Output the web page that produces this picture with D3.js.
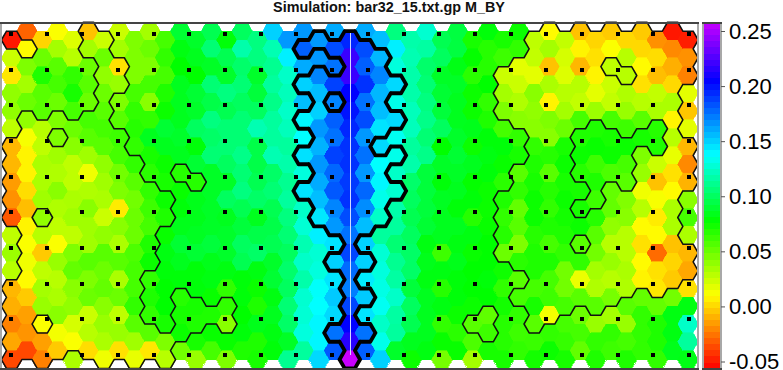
<!DOCTYPE html>
<html>
<head>
<meta charset="utf-8">
<script src="https://d3js.org/d3.v7.min.js"></script>
<style>html,body{margin:0;padding:0;background:#fff}svg{display:block}</style>
</head>
<body>
<div id="chart"></div>
<script>
// M_BY in thousandths, read per hexagon column (top to bottom)
const col00=[-50,25,5,40,40,28,-8,-8,-15,-18,-33,28,37,30,-8,-10,-22,-12,-37];
const col01=[-30,10,45,35,50,40,13,8,8,2,-6,8,12,15,10,-3,-14,-17,-37];
const col02=[0,50,70,55,55,30,28,33,33,36,40,30,-3,28,35,38,12,-14,-22];
const col03=[12,35,55,60,50,45,45,36,32,42,32,28,12,38,30,33,42,14,-3];
const col04=[20,30,65,72,60,50,42,28,28,33,36,28,45,52,42,40,22,12,33];
const col05=[-5,35,50,55,50,60,55,36,15,32,42,36,36,55,45,50,25,30,2];
const col06=[25,50,40,50,55,60,55,40,36,33,25,40,55,50,52,42,38,33,15];
const col07=[25,35,3,38,45,55,62,60,48,45,6,42,33,55,33,50,28,38,3];
const col08=[45,45,45,60,65,68,65,65,55,48,50,50,58,60,60,65,55,36,17];
const col09=[35,50,45,60,42,65,85,72,67,65,62,60,70,75,65,70,65,55,5];
const col10=[60,65,60,70,75,90,85,75,72,75,70,76,82,80,78,78,72,45,30];
const col11=[90,82,78,85,85,85,88,85,68,76,80,84,90,85,80,68,72,75,48];
const col12=[88,85,78,90,88,100,80,90,68,84,84,86,90,80,80,72,70,72,38];
const col13=[97,105,87,105,95,108,102,105,87,87,87,87,92,84,82,76,70,76,60];
const col14=[80,97,88,108,97,105,105,100,87,100,85,88,88,82,65,65,42,76,45];
const col15=[100,118,103,105,100,105,105,110,105,108,97,92,100,97,80,80,78,80,70];
const col16=[108,108,88,92,100,120,95,95,97,102,85,95,102,82,75,70,84,70,72];
const col17=[150,120,112,115,110,115,115,120,102,105,97,95,97,88,90,82,85,82,80];
const col18=[165,142,125,122,125,122,115,118,112,115,108,105,100,103,100,105,102,87,112];
const col19=[165,180,160,150,155,140,138,146,130,145,125,128,120,125,118,127,128,130,115];
const col20=[165,165,170,155,150,165,158,165,160,155,144,142,128,130,137,138,140,140,148];
const col21=[160,185,175,188,170,180,175,188,178,182,170,165,145,150,145,152,148,175,182];
const col22=[195,220,220,205,200,195,192,192,190,192,185,175,187,177,172,187,205,215,258];
const col23=[160,185,180,192,175,185,165,175,165,178,168,155,150,150,143,152,145,175,180];
const col24=[155,157,170,157,155,145,148,138,140,133,125,115,128,130,132,135,125,133,150];
const col25=[108,142,130,148,133,148,135,133,125,127,118,115,105,112,116,125,116,115,88];
const col26=[118,120,118,118,122,122,115,118,103,100,97,100,102,102,92,100,97,85,75];
const col27=[127,116,103,105,108,110,105,110,92,92,92,90,82,84,82,85,85,85,82];
const col28=[97,100,87,90,92,100,78,87,80,86,85,85,62,82,68,82,65,76,47];
const col29=[93,93,83,87,85,85,88,90,87,85,80,85,82,84,80,80,75,67,76];
const col30=[72,77,67,75,75,84,75,85,77,80,68,82,76,78,78,75,55,58,35];
const col31=[80,68,68,78,65,70,80,82,80,75,75,76,78,78,80,78,53,62,72];
const col32=[72,62,25,35,45,60,80,76,67,70,65,68,50,74,65,73,68,68,72];
const col33=[75,65,18,25,32,42,65,72,55,65,52,55,45,67,55,60,65,62,65];
const col34=[28,27,18,42,40,42,65,70,72,75,75,68,70,70,60,72,55,63,73];
const col35=[10,35,-5,33,8,45,42,68,55,68,65,70,60,70,60,62,14,65,75];
const col36=[27,22,20,30,35,50,72,75,72,75,73,70,65,48,48,60,60,64,72];
const col37=[-5,8,-8,30,27,60,70,75,68,72,72,75,55,65,16,55,50,60,52];
const col38=[0,3,8,18,37,70,76,62,70,62,68,55,48,35,32,55,38,65,70];
const col39=[-3,12,28,25,27,60,72,75,58,52,52,40,30,38,30,47,35,65,62];
const col40=[1,30,30,32,38,62,75,60,55,44,42,30,30,33,32,55,38,60,70];
const col41=[-3,1,10,3,30,55,72,45,38,15,30,10,3,10,8,52,65,65,65];
const col42=[-18,2,-6,27,33,68,70,25,-5,13,6,10,-28,3,5,52,70,70,65];
const col43=[-50,-20,-10,1,33,8,30,17,3,10,33,33,-5,0,-3,48,82,82,84];
const col44=[-48,-18,-22,18,-4,18,-8,-20,-9,42,60,33,-8,-12,3,82,125,115,83];
const columns=[col00,col01,col02,col03,col04,col05,col06,col07,col08,col09,col10,col11,col12,col13,col14,col15,col16,col17,col18,col19,col20,col21,col22,col23,col24,col25,col26,col27,col28,col29,col30,col31,col32,col33,col34,col35,col36,col37,col38,col39,col40,col41,col42,col43,col44];

// Cells on the low side of the thin contour (column -> rows)
const lowRows=[
 [0,6,7,8,9,10,14,15,16,17,18],
 [1,5,6,7,8,9,10,11,12,13,14,15,16,17,18],
 [5,6,7,8,9,11,12,13,14,15,17,18],
 [5,7,8,9,10,11,12,13,14,15,16,17,18],
 [5,6,7,8,9,10,11,12,13,14,15,16,17],
 [0,1,5,6,7,8,9,10,11,12,13,14,15,16,17,18],
 [0,1,2,3,4,5,6,7,8,9,10,11,12,13,14,15,16,17,18],
 [2,3,6,7,8,9,10,11,12,13,14,15,16,17,18],
 [7,8,9,10,11,12,13,14,15,16,17,18],
 [9,10,11,12,13,17,18],
 [9,10,17,18],
 [8,15,16,17],
 [8,15,16],
 [16],
 [15,16],
 [],[],[],[],[],[],[],[],[],[],[],[],[],[],[],
 [16],
 [16,17],
 [2,3,4,9,10,11,12],
 [2,3,4,5,8,9,10,11,12,13,15],
 [0,1,2,3,4,5,6,7,8,9,10,11,12,13,14,15,16],
 [0,1,2,3,4,5,6,7,8,9,10,11,12,13,14,15,16],
 [0,1,2,3,4,5,6,7,8,9,10,11,12,13,14,15],
 [0,1,2,3,4,5,9,11,13,14,15],
 [0,1,2,3,4,10,11,12,13,14,15],
 [0,1,3,4,5,9,10,11,12,13,14,15],
 [0,1,3,4,5,9,10,11,12,13,14],
 [0,1,2,3,4,5,7,8,9,10,11,12,13,14],
 [0,1,2,3,4,7,8,9,10,11,12,13,14],
 [0,1,2,3,4,5,6,7,8,9,10,11,12,13,14],
 [0,1,2,6,7,8,12,13]
];
// Cells inside the heavy contour (column -> rows)
const highRows={
 19:[1,3,5,7,9],
 20:[0,2,3,4,5,6,7,8,9,10],
 21:[1,3,5,6,7,8,9,10,11,13,17],
 22:[0,1,2,3,4,5,6,7,8,9,10,11,12,13,14,15,16,17,18],
 23:[1,2,3,4,5,6,7,8,9,10,11,13,15,17],
 24:[1,2,3,4,5,7,8,9,10],
 25:[3,5,7,9]
};
const colorStops=[-0.056,0.011,0.078,0.138,0.205,0.258];
const colorRamp=["#ff0000","#ffff00","#00ff00","#00ffff","#0000ff","#c800ff"];
const barTicks=[-0.05,0,0.05,0.10,0.15,0.20,0.25];
const dotColumnCount=20, dotRowCount=10;
const titleText="Simulation: bar32_15.txt.gp M_BY";

const W=783,H=370;
const svg=d3.select("#chart").append("svg").attr("width",W).attr("height",H);
const x=d3.scaleLinear().domain([0,44]).range([11.6,688]);
const y=d3.scaleLinear().domain([0,18]).range([40,359.5]);
const color=d3.scaleLinear().domain(colorStops).range(colorRamp).interpolate(d3.interpolateRgb).clamp(true);
const s=(x(1)-x(0))*2/3, h=(y(1)-y(0))/2;
const cy=(k,n)=>y(k%2? n-0.5 : n);

const verts=(k,n)=>{const X=x(k),Y=cy(k,n);return{
  UL:[X-s/2,Y-h],UR:[X+s/2,Y-h],R:[X+s,Y],LR:[X+s/2,Y+h],LL:[X-s/2,Y+h],L:[X-s,Y]};};

const cells=[];
columns.forEach((c,k)=>c.forEach((v,n)=>cells.push({k,n,v:v/1000})));

// hexagon cells
svg.append("g").attr("shape-rendering","crispEdges").selectAll("path").data(cells).join("path")
  .attr("d",d=>{const p=verts(d.k,d.n);return "M"+[p.UL,p.UR,p.R,p.LR,p.LL,p.L].map(a=>a.join(",")).join("L")+"Z";})
  .attr("fill",d=>color(d.v)).attr("stroke",d=>color(d.v)).attr("stroke-width",0.6);

// contours along hexagon edges
const level=(k,n)=>{
  if(k<0||k>44||n<0||n>18) return 1;
  if(highRows[k]&&highRows[k].includes(n)) return 2;
  return lowRows[k].includes(n)?0:1;
};
const thin=d3.path(),thick=d3.path();
cells.forEach(({k,n})=>{
  const m=level(k,n),p=verts(k,n),d=k%2?-1:0;
  const nb=[[k,n-1,"UL","UR"],[k,n+1,"LL","LR"],[k+1,n+d,"UR","R"],[k+1,n+d+1,"R","LR"],[k-1,n+d,"UL","L"],[k-1,n+d+1,"L","LL"]];
  nb.forEach(([a,b,u,w])=>{
    const o=level(a,b);
    if(o===m) return;
    const inside=a>=0&&a<=44&&b>=0&&b<=18;
    if(inside&&(a<k||(a===k&&b<n))) return;
    const t=(m===2||o===2)?thick:thin;
    t.moveTo(p[u][0],p[u][1]);t.lineTo(p[w][0],p[w][1]);
  });
});
svg.append("path").attr("d",thin.toString()).attr("fill","none").attr("stroke","#111").attr("stroke-width",1.5).attr("stroke-linecap","round");
svg.append("path").attr("d",thick.toString()).attr("fill","none").attr("stroke","#000").attr("stroke-width",3.8).attr("stroke-linecap","round");

// centre line and sample dots
const dotX=d3.scaleLinear().domain([0,dotColumnCount-1]).range([11,689]);
const dotY=d3.scaleLinear().domain([0,dotRowCount-1]).range([34,355]);
svg.append("line").attr("x1",350.5).attr("x2",350.5).attr("y1",dotY(0)-1).attr("y2",dotY(dotRowCount-1))
  .attr("stroke","#d0dcff").attr("stroke-width",1).attr("shape-rendering","crispEdges");
const dots=d3.cross(d3.range(dotColumnCount),d3.range(dotRowCount));
svg.append("g").attr("shape-rendering","crispEdges").selectAll("rect").data(dots).join("rect")
  .attr("x",d=>Math.round(dotX(d[0]))-2).attr("y",d=>Math.round(dotY(d[1]))-2)
  .attr("width",4).attr("height",4).attr("fill","#000");

// plot frame
const frame=svg.append("g").attr("shape-rendering","crispEdges");
const box=(g,x0,x1,y0,y1)=>{
  g.append("rect").attr("x",x0-2).attr("y",y0).attr("width",2).attr("height",y1-y0).attr("fill","#a8a8a8");
  g.append("rect").attr("x",x1).attr("y",y0).attr("width",2).attr("height",y1-y0).attr("fill","#a8a8a8");
  g.append("rect").attr("x",x0-2).attr("y",y0-1).attr("width",x1-x0+4).attr("height",1.5).attr("fill","#444");
  g.append("rect").attr("x",x0-2).attr("y",y1).attr("width",x1-x0+4).attr("height",1.5).attr("fill","#444");
};
box(frame,2,697,23,368);

// colour bar
const barY=d3.scaleLinear().domain([-0.05,0.25]).range([361.5,31]);
const barDomain=d3.range(-0.056,0.258,0.0055);
svg.append("g").attr("shape-rendering","crispEdges").selectAll("rect").data(barDomain).join("rect")
  .attr("x",704).attr("width",16)
  .attr("y",d=>Math.max(23,barY(d+0.0055))).attr("height",d=>Math.min(368,barY(d))-Math.max(23,barY(d+0.0055))+0.5)
  .attr("fill",d=>color(d+0.00275));
box(svg.append("g").attr("shape-rendering","crispEdges"),704,720,23,368);
const axis=d3.axisRight(barY).tickValues(barTicks).tickSize(4).tickPadding(4)
  .tickFormat(d=>d3.format(".2f")(d).replace("\u2212","-"));
const ax=svg.append("g").attr("transform","translate(721,0)").call(axis);
ax.select(".domain").remove();
ax.selectAll("line").attr("stroke","#555");
ax.selectAll("text").attr("font-family","'Liberation Sans',Arial,sans-serif").attr("font-size",22).attr("fill","#000");

svg.append("text").attr("x",389).attr("y",12).attr("text-anchor","middle")
  .attr("font-family","'Liberation Sans',Arial,sans-serif").attr("font-weight","bold").attr("font-size",14.4).attr("fill","#111")
  .text(titleText);
</script>
</body>
</html>
